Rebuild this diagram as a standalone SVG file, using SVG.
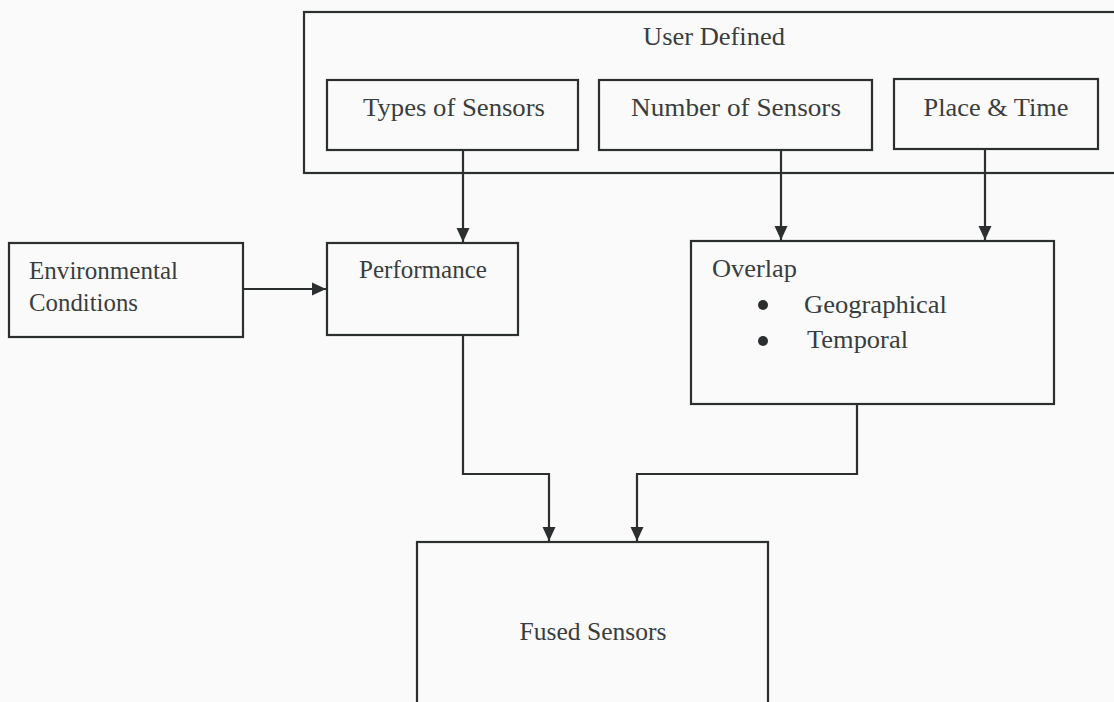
<svg xmlns="http://www.w3.org/2000/svg" width="1114" height="702" viewBox="0 0 1114 702">
<style>
.box{fill:none;stroke:#2b2f2f;stroke-width:2.2}
.con{fill:none;stroke:#2b2f2f;stroke-width:2.2}
text{font-family:"Liberation Serif","Times New Roman",serif;font-size:25px;fill:#3a3d3d}
</style>
<defs>
<marker id="arr" markerWidth="16" markerHeight="16" refX="14" refY="7" orient="auto" markerUnits="userSpaceOnUse">
<path d="M0,0.5 L14,7 L0,13.5 Z" fill="#2b2f2f"/>
</marker>
</defs>
<rect width="1114" height="702" fill="#fafafa"/>
<g id="user-defined">
<rect class="box" x="304" y="12" width="820" height="161"/>
<text x="714" y="45" text-anchor="middle" textLength="142" lengthAdjust="spacingAndGlyphs">User Defined</text>
</g>
<g id="types">
<rect class="box" x="327" y="80" width="251" height="70"/>
<text x="454" y="116" text-anchor="middle" textLength="182" lengthAdjust="spacingAndGlyphs">Types of Sensors</text>
</g>
<g id="number">
<rect class="box" x="599" y="80" width="273" height="70"/>
<text x="736" y="116" text-anchor="middle" textLength="210" lengthAdjust="spacingAndGlyphs">Number of Sensors</text>
</g>
<g id="place">
<rect class="box" x="894" y="79" width="204" height="70"/>
<text x="996" y="116" text-anchor="middle" textLength="145" lengthAdjust="spacingAndGlyphs">Place &amp; Time</text>
</g>
<g id="environmental">
<rect class="box" x="9" y="243" width="234" height="94"/>
<text x="29" y="279" textLength="149" lengthAdjust="spacingAndGlyphs">Environmental</text>
<text x="29" y="311" textLength="109" lengthAdjust="spacingAndGlyphs">Conditions</text>
</g>
<g id="performance">
<rect class="box" x="327" y="243" width="191" height="92"/>
<text x="423" y="278" text-anchor="middle" textLength="128" lengthAdjust="spacingAndGlyphs">Performance</text>
</g>
<g id="overlap">
<rect class="box" x="691" y="241" width="363" height="163"/>
<text x="712" y="277" textLength="85" lengthAdjust="spacingAndGlyphs">Overlap</text>
<circle cx="763" cy="305" r="5" fill="#2b2f2f"/>
<text x="804" y="313" textLength="143" lengthAdjust="spacingAndGlyphs">Geographical</text>
<circle cx="763" cy="341" r="5" fill="#2b2f2f"/>
<text x="807" y="348" textLength="101" lengthAdjust="spacingAndGlyphs">Temporal</text>
</g>
<g id="fused">
<rect class="box" x="417" y="542" width="351" height="200"/>
<text x="593" y="640" text-anchor="middle" textLength="147" lengthAdjust="spacingAndGlyphs">Fused Sensors</text>
</g>
<g id="connectors">
<path class="con" d="M463,150 V242" marker-end="url(#arr)"/>
<path class="con" d="M781,150 V240" marker-end="url(#arr)"/>
<path class="con" d="M985,149 V240" marker-end="url(#arr)"/>
<path class="con" d="M243,289 H326" marker-end="url(#arr)"/>
<path class="con" d="M463,335 V474 H549 V541" marker-end="url(#arr)"/>
<path class="con" d="M857,404 V474 H637 V541" marker-end="url(#arr)"/>
</g>
</svg>
